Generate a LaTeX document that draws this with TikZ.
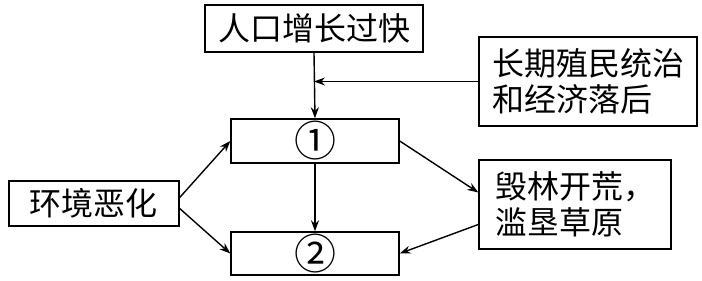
\documentclass[tikz,border=0pt]{standalone}
\usepackage{fontspec}
\newfontfamily\cjk{Noto Sans CJK SC}
\usetikzlibrary{arrows.meta}

\begin{document}
\begin{tikzpicture}[x=1pt,y=-1pt,>={Stealth[length=11pt,width=8pt]},
  box/.style={draw,line width=1.4pt,inner sep=0pt,align=left,font=\cjk\fontsize{32}{36}\selectfont},
  mark box/.style={box,font=\cjk\fontsize{42}{42}\selectfont},
  link/.style={->,line width=1.4pt}]
  \useasboundingbox (0,0) rectangle (702,281);
  \node[box,minimum width=218pt,minimum height=47pt] (grow) at (314,28.5) {人口增长过快};
  \node[box,minimum width=218pt,minimum height=89pt] (colony) at (588,81.5) {长期殖民统治\\和经济落后};
  \node[mark box,minimum width=168pt,minimum height=44pt] (one) at (315,141) {①};
  \node[mark box,minimum width=168pt,minimum height=43pt] (two) at (315,253.5) {②};
  \node[box,minimum width=170pt,minimum height=45pt] (env) at (94,203.5) {环境恶化};
  \node[box,minimum width=192pt,minimum height=89pt] (clear) at (575,204.5) {毁林开荒，\\滥垦草原};
  \draw[link] (grow.south) -- (one.north);
  \draw[link] (colony.west) -- (colony.west -| grow.south);
  \draw[link] (one) -- (two);
  \draw[link] ([yshift=6pt]env.east) -- (one.west);
  \draw[link] ([yshift=-5pt]env.east) -- (two.west);
  \draw[link] (one.east) -- ([yshift=12pt]clear.west);
  \draw[link] ([yshift=-20pt]clear.west) -- (two.east);
\end{tikzpicture}
\end{document}
